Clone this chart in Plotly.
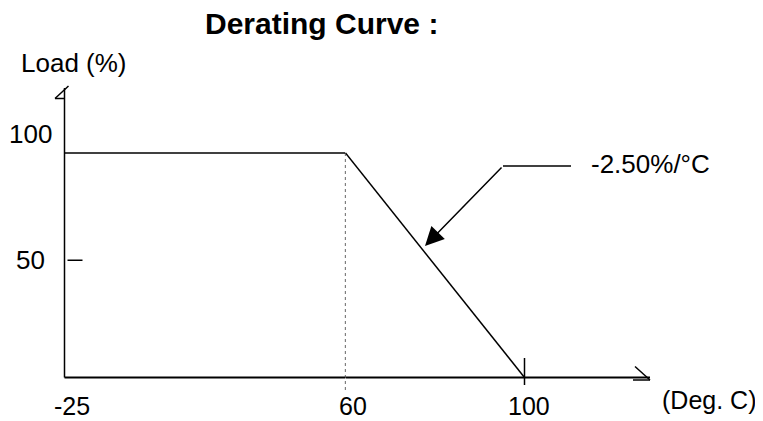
import plotly.graph_objects as go

# derating data
temp_flat = [-25, 60]
load_flat = [100, 100]
temp_slope = [60, 100]
load_slope = [100, 0]

x_ticks_left = [-25, 60]
x_ticks_right = [100]
y_ticks = [100, 50]
slope_label = "-2.50%/°C"

# page is 763x421, the plot div sits 8px in from the top-left (body margin)
PAGE_W, PAGE_H, OFF = 763, 421, 8
W, H = PAGE_W - OFF, PAGE_H - OFF
FONT = "Liberation Sans, Arial, sans-serif"

# pixel anchors of the (not to scale) drawing, in page pixels
X0_PX, X60_PX, X100_PX = 64.5, 345.5, 524.5
Y0_PX, Y100_PX = 377.5, 153.0

s1 = (X60_PX - X0_PX) / 85.0
s2 = (X100_PX - X60_PX) / 40.0
sy = (Y0_PX - Y100_PX) / 100.0

x1_range = [-25 - (X0_PX - OFF) / s1, 60]
x2_range = [60, 60 + (PAGE_W - X60_PX) / s2]
y_range = [-(PAGE_H - Y0_PX) / sy, (Y0_PX - OFF) / sy]


def px2x2(p):
    return 60 + (p - X60_PX) / s2


def py2y(p):
    return (Y0_PX - p) / sy


def paper(px, py):
    return (px - OFF) / W, (PAGE_H - py) / H


line = dict(color="black", width=1.5)

fig = go.Figure()
fig.add_trace(go.Scatter(x=temp_flat, y=load_flat, mode="lines", line=line,
                         xaxis="x", yaxis="y", hoverinfo="skip"))
fig.add_trace(go.Scatter(x=temp_slope, y=load_slope, mode="lines", line=line,
                         xaxis="x2", yaxis="y", hoverinfo="skip"))

x_end = px2x2(650)
y_top = py2y(88)

shapes = [
    # axes
    dict(type="line", xref="x", yref="y", x0=-25, x1=-25, y0=0, y1=y_top, line=line),
    dict(type="line", xref="x", yref="y", x0=-25, x1=60, y0=0, y1=0, line=dict(color="black", width=2)),
    dict(type="line", xref="x2", yref="y", x0=60, x1=x_end, y0=0, y1=0, line=dict(color="black", width=2)),
    # top arrow head
    dict(type="line", xref="x", yref="y", xsizemode="pixel", ysizemode="pixel",
         xanchor=-25, yanchor=y_top, x0=4, y0=2, x1=-9.5, y1=-10.5, line=line),
    dict(type="line", xref="x", yref="y", xsizemode="pixel", ysizemode="pixel",
         xanchor=-25, yanchor=y_top, x0=-9.5, y0=-10.5, x1=0, y1=-10.5, line=line),
    # right arrow head
    dict(type="line", xref="x2", yref="y", xsizemode="pixel", ysizemode="pixel",
         xanchor=x_end, yanchor=0, x0=-15, y0=11, x1=0, y1=-2.5, line=line),
    dict(type="line", xref="x2", yref="y", xsizemode="pixel", ysizemode="pixel",
         xanchor=x_end, yanchor=0, x0=-17, y0=-2.5, x1=0, y1=-2.5, line=line),
    # ticks
    dict(type="line", xref="x", yref="y", xsizemode="pixel", ysizemode="pixel",
         xanchor=-25, yanchor=50, x0=3, y0=5, x1=18, y1=5, line=line),
    dict(type="line", xref="x2", yref="y", xsizemode="pixel", ysizemode="pixel",
         xanchor=100, yanchor=0, x0=0, y0=19.5, x1=0, y1=-7.5, line=line),
    # dotted drop line at 60
    dict(type="line", xref="x", yref="y", x0=60, x1=60, y0=100, y1=py2y(392),
         line=dict(color="black", width=1.2, dash="dot")),
    # leader line for slope label
    dict(type="line", xref="x2", yref="y", x0=px2x2(503), x1=px2x2(571),
         y0=py2y(166), y1=py2y(166), line=line),
]

txt = dict(family=FONT, size=26, color="black")
tick_txt = dict(family=FONT, size=25, color="black")
mid = dict(xanchor="center", yanchor="middle", showarrow=False)
ann = []
for t in x_ticks_left:
    ann.append(dict(x=t, y=0, xref="x", yref="y", text=str(t),
                    xshift=7, yshift=-28, font=tick_txt, **mid))
for t in x_ticks_right:
    ann.append(dict(x=t, y=0, xref="x2", yref="y", text=str(t),
                    xshift=4, yshift=-28, font=tick_txt, **mid))
for t, ys in zip(y_ticks, [19, 5]):
    ann.append(dict(x=-25, y=t, xref="x", yref="y", text=str(t),
                    xshift=-34, yshift=ys, font=txt, **mid))


def label(px, py, text, font):
    x, y = paper(px, py)
    return dict(x=x, y=y, xref="paper", yref="paper", text=text, font=font, **mid)


ann += [
    label(321.5, 24, "<b>Derating Curve :</b>", dict(family=FONT, size=30, color="black")),
    label(73.5, 63, "Load (%)", txt),
    label(709, 400, "(Deg. C)", tick_txt),
    label(650, 164, slope_label, txt),
    dict(x=px2x2(425), y=py2y(246), xref="x2", yref="y",
         ax=px2x2(503), ay=py2y(166), axref="x2", ayref="y",
         text="", showarrow=True, arrowhead=2, arrowsize=2.5, arrowwidth=1.5,
         arrowcolor="black", standoff=0),
]

hidden = dict(showgrid=False, zeroline=False, showline=False, showticklabels=False,
              ticks="", fixedrange=True)
fig.update_layout(
    width=W, height=H,
    margin=dict(l=0, r=0, t=0, b=0),
    paper_bgcolor="white", plot_bgcolor="white",
    showlegend=False,
    xaxis=dict(domain=[0, (X60_PX - OFF) / W], range=x1_range, **hidden),
    xaxis2=dict(domain=[(X60_PX - OFF) / W, 1], range=x2_range, anchor="y", **hidden),
    yaxis=dict(domain=[0, 1], range=y_range, **hidden),
    shapes=shapes,
    annotations=ann,
)

fig.write_html("out.html")
